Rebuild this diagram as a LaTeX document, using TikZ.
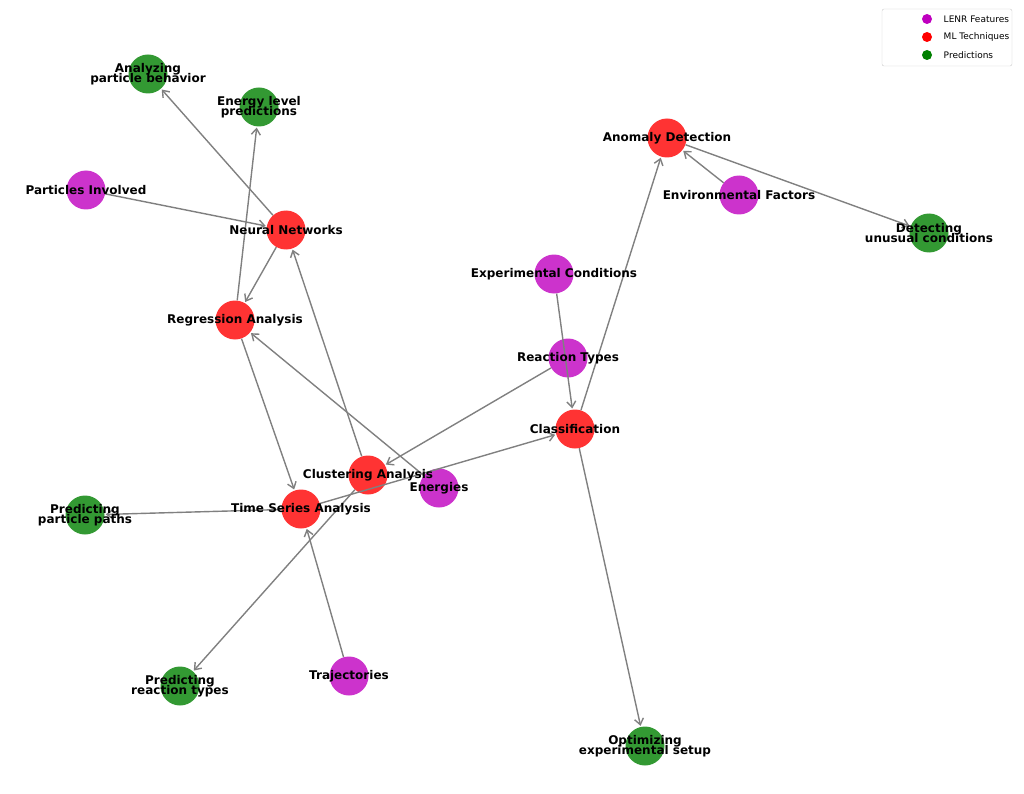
\documentclass[tikz,border=0pt]{standalone}
\usepackage{fontspec}
\setmainfont{DejaVu Sans}
\usetikzlibrary{arrows.meta,positioning}
\definecolor{feat}{RGB}{191,0,191}
\definecolor{tech}{RGB}{255,0,0}
\definecolor{pred}{RGB}{0,128,0}
\tikzset{
  dot/.style={circle, minimum size=39pt, inner sep=0pt, fill opacity=0.8},
  feature/.style={dot, fill=feat},
  technique/.style={dot, fill=tech},
  prediction/.style={dot, fill=pred},
  lbl/.style={font=\bfseries\fontsize{12}{13}\selectfont, align=center},
  edge/.style={draw=gray, line width=1.4pt, -{Straight Barb[length=6pt,width=9pt]}, shorten >=1pt},
  keydot/.style={circle, minimum size=10pt, inner sep=0pt}
}
\begin{document}
\begin{tikzpicture}[x=1pt,y=-1pt]
            \useasboundingbox (0,0) rectangle (1024,794);
            % the nodes
            \node[prediction] (apb) at (148,74) {};
            \node[prediction] (elp) at (259,107) {};
            \node[feature] (pin) at (86,190) {};
            \node[technique] (nn) at (286,230) {};
            \node[technique] (ad) at (667,138) {};
            \node[feature] (ef) at (739,195) {};
            \node[prediction] (duc) at (929,233) {};
            \node[feature] (ec) at (554,274) {};
            \node[technique] (ra) at (235,320) {};
            \node[feature] (rt) at (568,358) {};
            \node[technique] (cl) at (575,429) {};
            \node[technique] (ca) at (368,475) {};
            \node[feature] (en) at (439,488) {};
            \node[technique] (tsa) at (301,509) {};
            \node[prediction] (ppp) at (85,515) {};
            \node[prediction] (prt) at (180,686) {};
            \node[feature] (tr) at (349,676) {};
            \node[prediction] (oes) at (645,746) {};
            % the arrows
            \draw[edge] (pin) -- (nn);
            \draw[edge] (nn) -- (apb);
            \draw[edge] (nn) -- (ra);
            \draw[edge] (ra) -- (elp);
            \draw[edge] (ra) -- (tsa);
            \draw[edge] (en) -- (ra);
            \draw[edge] (ca) -- (nn);
            \draw[edge] (ca) -- (prt);
            \draw[edge] (rt) -- (ca);
            \draw[edge] (ec) -- (cl);
            \draw[edge] (cl) -- (ad);
            \draw[edge] (cl) -- (oes);
            \draw[edge] (ef) -- (ad);
            \draw[edge] (ad) -- (duc);
            \draw[edge] (tsa) -- (ppp);
            \draw[edge] (tsa) -- (cl);
            \draw[edge] (tr) -- (tsa);
            % the texts
            \node[lbl] at (apb) {Analyzing\\[-3pt]particle behavior};
            \node[lbl] at (elp) {Energy level\\[-3pt]predictions};
            \node[lbl] at (pin) {Particles Involved};
            \node[lbl] at (nn) {Neural Networks};
            \node[lbl] at (ad) {Anomaly Detection};
            \node[lbl] at (ef) {Environmental Factors};
            \node[lbl] at (duc) {Detecting\\[-3pt]unusual conditions};
            \node[lbl] at (ec) {Experimental Conditions};
            \node[lbl] at (ra) {Regression Analysis};
            \node[lbl] at (rt) {Reaction Types};
            \node[lbl] at (cl) {Classification};
            \node[lbl] at (ca) {Clustering Analysis};
            \node[lbl] at (en) {Energies};
            \node[lbl] at (tsa) {Time Series Analysis};
            \node[lbl] at (ppp) {Predicting\\[-3pt]particle paths};
            \node[lbl] at (prt) {Predicting\\[-3pt]reaction types};
            \node[lbl] at (tr) {Trajectories};
            \node[lbl] at (oes) {Optimizing\\[-3pt]experimental setup};
            % the legend
            \draw[draw=black!20, fill=white, rounded corners=2pt] (882,9) rectangle (1012,66);
            \node[keydot, fill=feat] (kf) at (927,19) {};
            \node[keydot, fill=tech] (kt) at (927,37) {};
            \node[keydot, fill=pred] (kp) at (927,55) {};
            \node[right=8pt of kf, font=\fontsize{9}{10}\selectfont] {LENR Features};
            \node[right=8pt of kt, font=\fontsize{9}{10}\selectfont] {ML Techniques};
            \node[right=8pt of kp, font=\fontsize{9}{10}\selectfont] {Predictions};
\end{tikzpicture}
\end{document}
